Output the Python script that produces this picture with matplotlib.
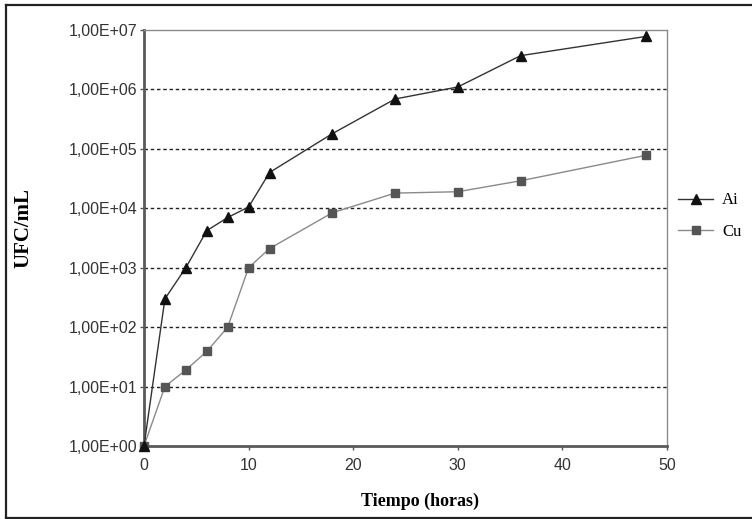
import numpy as np
import matplotlib
matplotlib.use("Agg")
import matplotlib.pyplot as plt
from matplotlib.lines import Line2D
from matplotlib.ticker import FixedLocator, NullLocator

hours = [0, 2, 4, 6, 8, 10, 12, 18, 24, 30, 36, 48]
ai = [1, 3.0e2, 1.0e3, 4.2e3, 7.0e3, 1.05e4, 4.0e4, 1.8e5, 6.9e5, 1.1e6, 3.7e6, 7.8e6]
cu = [1, 1.0e1, 1.9e1, 3.9e1, 1.0e2, 1.0e3, 2.1e3, 8.4e3, 1.8e4, 1.9e4, 2.9e4, 7.8e4]

y_ticks = [1e0, 1e1, 1e2, 1e3, 1e4, 1e5, 1e6, 1e7]
y_labels = ["1,00E+00", "1,00E+01", "1,00E+02", "1,00E+03",
            "1,00E+04", "1,00E+05", "1,00E+06", "1,00E+07"]
x_ticks = [0, 10, 20, 30, 40, 50]

SANS = "Liberation Sans"
SERIF = "Liberation Serif"

fig = plt.figure(figsize=(7.52, 5.19), dpi=100)
ax = fig.add_axes([144/752, 1-446/519, 523/752, 416/519])

ax.plot(hours, ai, color="#333333", lw=1.0, marker="^", ms=7,
        mfc="#111111", mec="#111111", label="Ai", clip_on=False, zorder=4)
ax.plot(hours, cu, color="#8a8a8a", lw=1.0, marker="s", ms=6,
        mfc="#555555", mec="#555555", label="Cu", clip_on=False, zorder=3)

ax.set_yscale("log")
ax.set_xlim(0, 50)
ax.set_ylim(1, 1e7)
ax.yaxis.set_major_locator(FixedLocator(y_ticks))
ax.yaxis.set_minor_locator(NullLocator())
ax.set_yticklabels(y_labels, fontfamily=SANS, fontsize=11.5, color="#333333")
ax.set_xticks(x_ticks)
ax.set_xticklabels([str(t) for t in x_ticks], fontfamily=SANS, fontsize=11.5,
                   color="#333333")
ax.tick_params(direction="out", length=3, width=1, color="#555555")
ax.tick_params(axis="y", pad=1.5)
ax.tick_params(axis="x", pad=6)

for y in y_ticks[1:-1]:
    ax.axhline(y, color="#222222", lw=1.0, ls=(0, (2.5, 2)), zorder=1)

for side in ["left", "bottom"]:
    ax.spines[side].set_color("#5a5a5a")
    ax.spines[side].set_linewidth(2.0)
for side in ["top", "right"]:
    ax.spines[side].set_color("#8c8c8c")
    ax.spines[side].set_linewidth(1.0)

ax.set_xlabel("Tiempo (horas)", fontfamily=SERIF, fontweight="bold", fontsize=13)
ax.xaxis.set_label_coords((420-144)/523, -47/416)
ax.set_ylabel("UFC/mL", fontfamily=SERIF, fontweight="bold", fontsize=15)
ax.yaxis.set_label_coords((33-144)/523, (446-228)/416)

handles = [Line2D([], [], color="#333333", lw=1.0, marker="^", ms=7,
                  mfc="#111111", mec="#111111"),
           Line2D([], [], color="#8a8a8a", lw=1.0, marker="s", ms=6,
                  mfc="#555555", mec="#555555")]
leg = fig.legend(handles, ["Ai", "Cu"], loc="center left",
                 bbox_to_anchor=(663/752, 1-216/519), frameon=False,
                 prop={"family": SERIF, "size": 12}, handlelength=2.1,
                 handletextpad=0.55, labelspacing=0.9)

# outer frame (left, top, bottom; right edge runs off the picture)
fx0, fy0, fy1 = 6/752, 1-518/519, 1-5/519
for xs, ys in [([fx0, 1.0], [fy1, fy1]), ([fx0, 1.0], [fy0, fy0]),
               ([fx0, fx0], [fy0, fy1])]:
    fig.add_artist(Line2D(xs, ys, color="#222222", lw=1.6,
                          transform=fig.transFigure))

fig.savefig("out.png", dpi=100)
